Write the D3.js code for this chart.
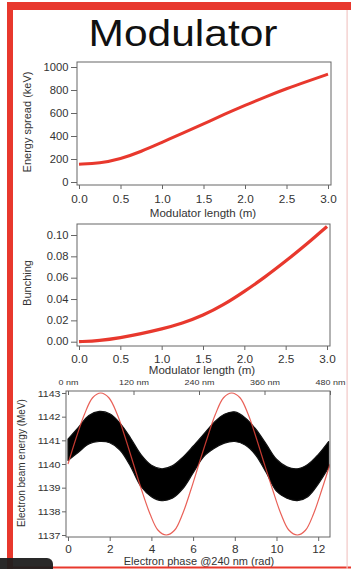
<!DOCTYPE html>
<html><head><meta charset="utf-8">
<script src="https://cdn.jsdelivr.net/npm/d3@7"></script>
<style>
html,body{margin:0;padding:0;background:#fff;}
svg{display:block;font-family:"Liberation Sans",Arial,sans-serif;}
</style></head>
<body>
<script>
// ---------- data ----------
const lengthM = [0, 0.25, 0.5, 0.75, 1.0, 1.25, 1.5, 1.75, 2.0, 2.25, 2.5, 2.75, 3.0];
const energySpread = [155, 163, 200, 265, 345, 424, 505, 588, 666, 742, 812, 876, 938];
const bunching = [0.000, 0.001, 0.0037, 0.0075, 0.0118, 0.0172, 0.0245, 0.0345, 0.047, 0.0605, 0.0755, 0.091, 0.108];

const spreadTicks = [0, 200, 400, 600, 800, 1000];
const bunchTicks = [0, 0.02, 0.04, 0.06, 0.08, 0.10];
const lengthTicks = [0, 0.5, 1.0, 1.5, 2.0, 2.5, 3.0];

// modulation curve (red)
const sinePhase = [0,0.39,0.79,1.18,1.57,1.96,2.36,2.75,3.14,3.53,3.93,4.32,4.71,5.11,5.50,5.89,6.28,
  6.68,7.07,7.46,7.85,8.25,8.64,9.03,9.42,9.82,10.21,10.60,11.00,11.39,11.78,12.17,12.57];
const sineEnergy = [1140.0,1141.1,1142.1,1142.8,1143.0,1142.8,1142.1,1141.1,1140.0,1138.9,1137.9,1137.2,1137.0,1137.2,1137.9,1138.9,1140.0,
  1141.1,1142.1,1142.8,1143.0,1142.8,1142.1,1141.1,1140.0,1138.9,1137.9,1137.2,1137.0,1137.2,1137.9,1138.9,1140.0];

// electron band envelope (black)
const bandPhase = [0,0.5,1.0,1.5,2.0,2.5,3.0,3.5,4.0,4.5,5.0,5.5,6.0,6.5,7.0,7.5,8.0,8.5,9.0,9.5,10.0,10.5,11.0,11.5,12.0,12.5];
const bandUpper = [1141.05,1141.55,1142.05,1142.22,1142.12,1141.72,1141.10,1140.40,1139.95,1139.80,1139.92,1140.28,1140.75,
  1141.25,1141.75,1142.10,1142.20,1141.95,1141.48,1140.85,1140.20,1139.88,1139.80,1139.98,1140.40,1140.95];
const bandLower = [1140.15,1140.50,1140.85,1140.95,1140.90,1140.58,1139.90,1139.05,1138.62,1138.45,1138.55,1138.95,1139.62,
  1140.30,1140.65,1140.88,1140.95,1140.80,1140.38,1139.65,1138.85,1138.55,1138.45,1138.62,1139.15,1139.85];

const energyTicks = [1137, 1138, 1139, 1140, 1141, 1142, 1143];
const phaseTicks = [0, 2, 4, 6, 8, 10, 12];
const nmTicks = [0, 120, 240, 360, 480];

// ---------- drawing ----------
const W = 351, H = 569;
const svg = d3.select("body").append("svg").attr("width", W).attr("height", H);
svg.append("rect").attr("width", W).attr("height", H).attr("fill", "#fff");

const RED = "#e8382d";
const AX = "#666";
const TXT = "#333";

function stretch(sel, s) {
  sel.each(function () {
    const t = d3.select(this);
    const x = +t.attr("x") || 0;
    t.attr("transform", `translate(${x},0) scale(${s},1) translate(${-x},0)`);
  });
}
function styleAxis(g, fs) {
  g.select(".domain").remove();
  g.selectAll(".tick line").attr("stroke", AX).attr("stroke-width", 1);
  g.selectAll(".tick text").attr("fill", TXT).style("font-size", fs + "px");
  g.attr("font-family", null);
  stretch(g.selectAll(".tick text"), 1.12);
}
function frame(x0, y0, x1, y1) {
  svg.append("rect").attr("x", x0).attr("y", y0).attr("width", x1 - x0).attr("height", y1 - y0)
    .attr("fill", "none").attr("stroke", AX).attr("stroke-width", 1);
}
function hLabel(text, x, y, fs) {
  const t = svg.append("text").attr("x", x).attr("y", y).attr("text-anchor", "middle")
    .attr("fill", TXT).style("font-size", fs + "px").text(text);
  stretch(t, 1.1);
}
function vLabel(text, x, y, fs) {
  svg.append("text").attr("transform", `translate(${x},${y}) rotate(-90)`).attr("text-anchor", "middle")
    .attr("fill", TXT).style("font-size", fs + "px").text(text);
}

// title
svg.append("text").attr("x", 183).attr("y", 46).attr("text-anchor", "middle")
  .style("font-size", "37px").attr("fill", "#111")
  .attr("textLength", 189).attr("lengthAdjust", "spacingAndGlyphs").text("Modulator");

// ---- panel 1 ----
{
  const x = d3.scaleLinear().domain([0, 3]).range([79, 328]);
  const y = d3.scaleLinear().domain([0, 1000]).range([182, 67]);
  frame(77, 62, 331, 185);
  svg.append("g").attr("transform", "translate(77,0)")
    .call(d3.axisLeft(y).tickValues(spreadTicks).tickSize(6).tickPadding(2.5).tickFormat(d3.format("d")))
    .call(g => styleAxis(g, 10));
  svg.append("g").attr("transform", "translate(0,185)")
    .call(d3.axisBottom(x).tickValues(lengthTicks).tickSize(4).tickPadding(6.5).tickFormat(d3.format(".1f")))
    .call(g => styleAxis(g, 10.5));
  svg.append("path").datum(lengthM.map((d, i) => [d, energySpread[i]]))
    .attr("d", d3.line().x(d => x(d[0])).y(d => y(d[1])).curve(d3.curveBasis))
    .attr("fill", "none").attr("stroke", RED).attr("stroke-width", 3);
  hLabel("Modulator length (m)", 203, 217, 10.5);
  vLabel("Energy spread (keV)", 31, 122, 11);
}

// ---- panel 2 ----
{
  const x = d3.scaleLinear().domain([0, 3]).range([79, 327]);
  const y = d3.scaleLinear().domain([0, 0.1]).range([341.7, 235]);
  frame(77, 224, 330, 346);
  svg.append("g").attr("transform", "translate(77,0)")
    .call(d3.axisLeft(y).tickValues(bunchTicks).tickSize(6).tickPadding(2.5).tickFormat(d3.format(".2f")))
    .call(g => styleAxis(g, 10));
  svg.append("g").attr("transform", "translate(0,346)")
    .call(d3.axisBottom(x).tickValues(lengthTicks).tickSize(4).tickPadding(6).tickFormat(d3.format(".1f")))
    .call(g => styleAxis(g, 10.5));
  svg.append("path").datum(lengthM.map((d, i) => [d, bunching[i]]))
    .attr("d", d3.line().x(d => x(d[0])).y(d => y(d[1])).curve(d3.curveBasis))
    .attr("fill", "none").attr("stroke", RED).attr("stroke-width", 3.2);
  hLabel("Modulator length (m)", 202, 374, 10.5);
  vLabel("Bunching", 31, 283, 11);
}

// ---- panel 3 ----
{
  const x = d3.scaleLinear().domain([0, 4 * Math.PI]).range([68, 330]);
  const xTop = d3.scaleLinear().domain([0, 480]).range([68, 330]);
  const y = d3.scaleLinear().domain([1137, 1143]).range([535, 393]);
  svg.append("defs").append("clipPath").attr("id", "clip3")
    .append("rect").attr("x", 66).attr("y", 391).attr("width", 264).attr("height", 146);
  const plot = svg.append("g").attr("clip-path", "url(#clip3)");
  plot.append("path").datum(bandPhase.map((d, i) => [d, bandUpper[i], bandLower[i]]))
    .attr("d", d3.area().x(d => x(d[0])).y0(d => y(d[2])).y1(d => y(d[1])).curve(d3.curveCatmullRom))
    .attr("fill", "#000").attr("stroke", "#111").attr("stroke-width", 1.2).attr("stroke-linejoin", "round");
  plot.append("path").datum(sinePhase.map((d, i) => [d, sineEnergy[i]]))
    .attr("d", d3.line().x(d => x(d[0])).y(d => y(d[1])).curve(d3.curveCatmullRom))
    .attr("fill", "none").attr("stroke", "#e5443a").attr("stroke-opacity", 0.85).attr("stroke-width", 1.2);
  frame(66, 391, 330, 537);
  svg.append("g").attr("transform", "translate(66,0)")
    .call(d3.axisLeft(y).tickValues(energyTicks).tickSize(4).tickPadding(1.5).tickFormat(d3.format("d")))
    .call(g => styleAxis(g, 9.5));
  svg.append("g").attr("transform", "translate(0,537)")
    .call(d3.axisBottom(x).tickValues(phaseTicks).tickSize(4).tickPadding(5).tickFormat(d3.format("d")))
    .call(g => styleAxis(g, 10.5));
  svg.append("g").attr("transform", "translate(0,391)")
    .call(d3.axisTop(xTop).tickValues(nmTicks).tickSize(-4).tickPadding(6.3).tickFormat(d => d + " nm"))
    .call(g => styleAxis(g, 8));
  hLabel("Electron phase @240 nm (rad)", 199, 565, 10);
  vLabel("Electron beam energy (MeV)", 25, 463, 10);
}

// ---- decorative border ----
svg.append("rect").attr("x", 7).attr("y", 2).attr("width", W - 7).attr("height", 8).attr("fill", RED);
svg.append("rect").attr("x", 7).attr("y", 2).attr("width", 6).attr("height", H).attr("fill", RED);
svg.append("rect").attr("x", 13).attr("y", 566.5).attr("width", W - 13).attr("height", 2).attr("fill", RED);
svg.append("rect").attr("x", 346.5).attr("y", 10).attr("width", 1.2).attr("height", H).attr("fill", "#f2c8c6");
svg.append("rect").attr("x", -10).attr("y", 558).attr("width", 63).attr("height", 25).attr("rx", 6)
  .attr("fill", "#1e1e1e").attr("fill-opacity", 0.95);
</script>
</body></html>
